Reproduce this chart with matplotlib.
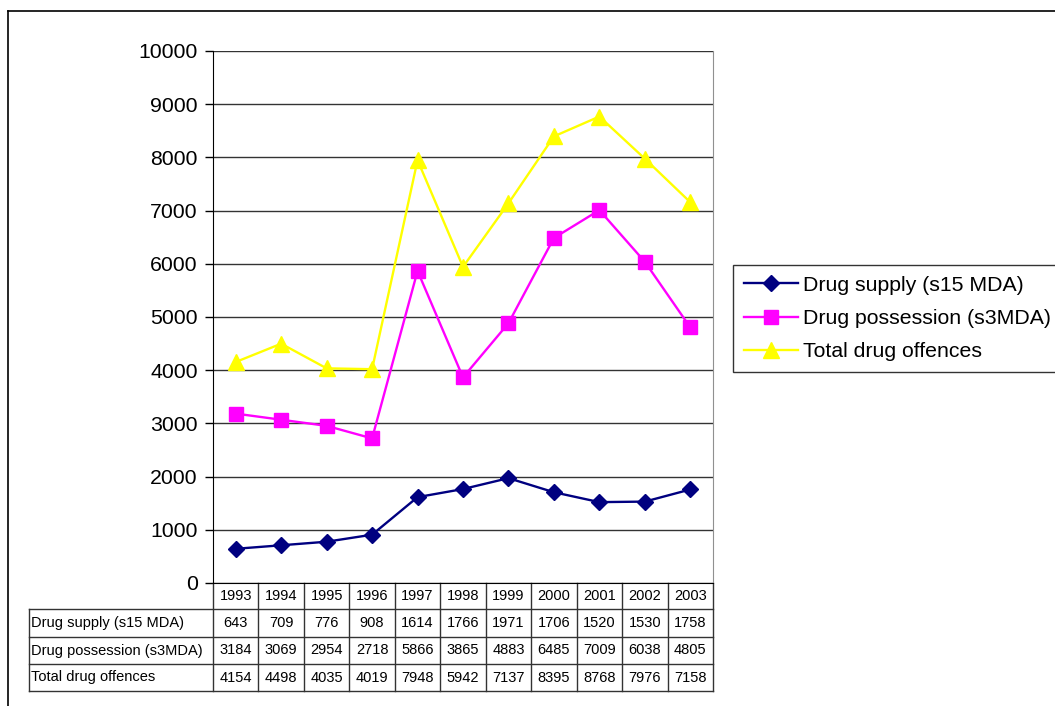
import matplotlib
matplotlib.use("Agg")
import matplotlib.pyplot as plt
from matplotlib.lines import Line2D

plt.rcParams['font.family'] = ['Liberation Sans', 'DejaVu Sans']

years = ['1993', '1994', '1995', '1996', '1997', '1998', '1999', '2000', '2001', '2002', '2003']
supply = [643, 709, 776, 908, 1614, 1766, 1971, 1706, 1520, 1530, 1758]
possession = [3184, 3069, 2954, 2718, 5866, 3865, 4883, 6485, 7009, 6038, 4805]
total = [4154, 4498, 4035, 4019, 7948, 5942, 7137, 8395, 8768, 7976, 7158]
series_names = ['Drug supply (s15 MDA)', 'Drug possession (s3MDA)', 'Total drug offences']
yticks = [0, 1000, 2000, 3000, 4000, 5000, 6000, 7000, 8000, 9000, 10000]

W, H = 1055, 706
fig = plt.figure(figsize=(W / 100, H / 100), dpi=100)

def fx(px):
    return px / W

def fy(py):
    return 1 - py / H

ax_l, ax_r, ax_t, ax_b = 213, 713, 51, 583
ax = fig.add_axes([fx(ax_l), fy(ax_b), (ax_r - ax_l) / W, (ax_b - ax_t) / H])

x = list(range(len(years)))
ax.plot(x, supply, color='#000080', lw=1.7, marker='D', ms=8.5, mec='#000080', mfc='#000080',
        label=series_names[0], zorder=5)
ax.plot(x, possession, color='#FF00FF', lw=1.7, marker='s', ms=10, mec='#FF00FF', mfc='#FF00FF',
        label=series_names[1], zorder=4)
ax.plot(x, total, color='#FFFF00', lw=1.7, marker='^', ms=11, mec='#FFFF00', mfc='#FFFF00',
        label=series_names[2], zorder=3)

ax.set_xlim(-0.5, len(years) - 0.5)
ax.set_ylim(0, 10000)
ax.set_yticks(yticks)
ax.set_yticklabels([str(v) for v in yticks], fontsize=15.3)
ax.set_xticks([])
ax.tick_params(axis='y', length=6, width=1, pad=5, color='black')
ax.grid(axis='y', color='#333333', lw=1)
ax.set_axisbelow(True)
ax.spines['top'].set_visible(False)
ax.spines['right'].set_color('#909090')
ax.spines['left'].set_color('black')
ax.spines['bottom'].set_color('black')

# Data table below the axis
tr = ax.get_xaxis_transform()
ph = ax_b - ax_t
row_edges_px = [583, 609, 637, 664, 691]
row_edges = [-(p - ax_b) / ph for p in row_edges_px]
label_left = (29 - ax_l) / ((ax_r - ax_l) / len(years)) - 0.5
tcolor = '#333333'

for k in range(len(years) + 1):
    xb = k - 0.5
    ax.add_line(Line2D([xb, xb], [row_edges[0], row_edges[-1]], transform=tr, color=tcolor,
                       lw=1, clip_on=False))
ax.add_line(Line2D([label_left, label_left], [row_edges[1], row_edges[-1]], transform=tr,
                   color=tcolor, lw=1, clip_on=False))
for r in row_edges[1:]:
    ax.add_line(Line2D([label_left, len(years) - 0.5], [r, r], transform=tr, color=tcolor,
                       lw=1, clip_on=False))

def mid(i):
    return (row_edges[i] + row_edges[i + 1]) / 2

for k, yr in enumerate(years):
    ax.text(k, mid(0), yr, transform=tr, ha='center', va='center', fontsize=10.5, clip_on=False)
for ri, (name, vals) in enumerate(zip(series_names, [supply, possession, total])):
    ym = mid(ri + 1)
    ax.text(label_left + 0.05, ym, name, transform=tr, ha='left', va='center', fontsize=10.5,
            clip_on=False)
    for k, v in enumerate(vals):
        ax.text(k, ym, str(v), transform=tr, ha='center', va='center', fontsize=10.5, clip_on=False)

# Legend (box runs past the right edge of the picture, as in the reference)
leg = fig.legend(loc='upper left', bbox_to_anchor=(fx(733), fy(266), fx(1075 - 733), 0.001),
                 mode='expand', fontsize=15.3,
                 frameon=True, fancybox=False, edgecolor='#333333', framealpha=1,
                 handlelength=2.55, handletextpad=0.25, borderpad=0.5, labelspacing=0.66,
                 borderaxespad=0)
leg.get_frame().set_linewidth(1)

# Outer chart border (only top and left visible)
fig.add_artist(Line2D([fx(8), 1.0], [fy(11), fy(11)], transform=fig.transFigure, color='black', lw=1.2))
fig.add_artist(Line2D([fx(8), fx(8)], [fy(11), 0.0], transform=fig.transFigure, color='black', lw=1.2))

fig.savefig('out.png', dpi=100, facecolor='white')
